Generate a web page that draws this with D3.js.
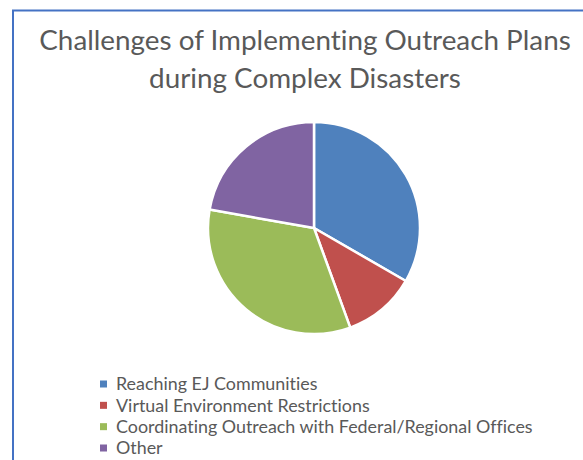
<!DOCTYPE html>
<html>
<head>
<meta charset="utf-8">
<script src="https://cdn.jsdelivr.net/npm/d3@7"></script>
<style>
html,body{margin:0;padding:0;background:#fff;}
svg{display:block;}
text{font-variant-ligatures:none;font-feature-settings:"liga" 0,"clig" 0;}
</style>
</head>
<body>
<svg id="chart" width="583" height="460"></svg>
<script>
const titleLines = ["Challenges of Implementing Outreach Plans", "during Complex Disasters"];
const categories = ["Reaching EJ Communities", "Virtual Environment Restrictions", "Coordinating Outreach with Federal/Regional Offices", "Other"];
const values = [3, 1, 3, 2];
const colors = ["#4F81BD", "#C0504D", "#9BBB59", "#8064A2"];

const W = 583, H = 460;
const svg = d3.select("#chart");
const FONT = "Lato, 'Open Sans', sans-serif";

// chart area border
svg.append("rect")
  .attr("x", 13).attr("y", 10.5)
  .attr("width", W + 20).attr("height", H + 20)
  .attr("fill", "#fff")
  .attr("stroke", "#4472C4").attr("stroke-width", 2);

// fit a text element to target width by scaling font-size
function fit(sel, target) {
  const n = sel.node();
  const fs = parseFloat(sel.attr("font-size"));
  const w = n.getComputedTextLength();
  sel.attr("font-size", (fs * target / w).toFixed(2));
}

// title
const titleY = [50, 88];
const titleW = [536, 312];
const tg = svg.append("g");
titleLines.forEach((t, i) => {
  const el = tg.append("text")
    .attr("x", 305).attr("y", titleY[i])
    .attr("text-anchor", "middle")
    .attr("font-family", FONT)
    .attr("font-size", 26)
    .attr("fill", "#595959")
    .text(t);
  fit(el, titleW[i]);
});
const ts = tg.selectAll("text").nodes().map(n => +n.getAttribute("font-size"));
tg.selectAll("text").attr("font-size", d3.min(ts));

// pie
const cx = 314, cy = 228, r = 106;
const pie = d3.pie().sort(null).value(d => d)(values);
const arc = d3.arc().innerRadius(0).outerRadius(r);
svg.append("g").attr("transform", `translate(${cx},${cy})`)
  .selectAll("path").data(pie).join("path")
  .attr("d", arc)
  .attr("fill", (d, i) => colors[i])
  .attr("stroke", "#fff").attr("stroke-width", 2.5)
  .attr("stroke-linejoin", "round");

// legend
const y = d3.scalePoint().domain(categories).range([384, 448]);
const lg = svg.append("g");
const rows = lg.selectAll("g").data(categories).join("g")
  .attr("transform", d => `translate(0,${y(d)})`);
rows.append("rect")
  .attr("x", 100).attr("y", -3.5).attr("width", 7).attr("height", 7)
  .attr("fill", (d, i) => colors[i]);
const lt = rows.append("text")
  .attr("x", 116).attr("y", 0).attr("dy", "0.35em")
  .attr("font-family", FONT).attr("font-size", 16)
  .attr("fill", "#595959")
  .text(d => d);
const longest = lt.filter((d, i) => i === 2);
fit(longest, 417);
lt.attr("font-size", longest.attr("font-size"));
</script>
</body>
</html>
